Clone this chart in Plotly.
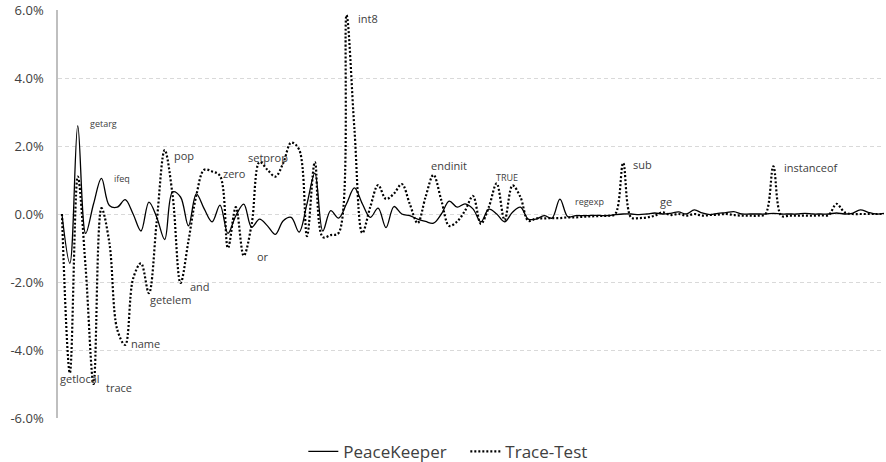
import plotly.graph_objects as go

# ---- data (percent) ----
peacekeeper = [
    0.0, -1.45, 2.6, -0.57, 0.3, 1.05, 0.25, 0.2, 0.42, 0.0,
    -0.5, 0.35, -0.1, -0.75, 0.65, 0.5, -0.35, 0.59, 0.15, -0.23,
    0.26, -0.57, -0.05, 0.29, -0.39, -0.15, -0.35, -0.6, -0.2, -0.1,
    -0.53, 0.3, 1.2, -0.5, 0.1, -0.12, 0.3, 0.77, 0.3, -0.1,
    0.17, -0.4, 0.22, 0.0, -0.05, -0.15, -0.22, -0.27, 0.0, 0.38,
    0.2, 0.3, 0.15, -0.23, 0.14, 0.0, -0.23, 0.05, 0.2, -0.15,
    -0.15, -0.05, -0.12, 0.44, -0.08, -0.05, -0.05, -0.04, -0.04, -0.05,
    -0.02, 0.0, 0.0, -0.02, 0.0, 0.03, 0.0, 0.02, 0.06, 0.0,
    0.12, 0.03, -0.02, 0.02, 0.04, 0.07, 0.0, 0.0, 0.0, 0.0,
    0.02, 0.0, 0.0, 0.0, 0.02, 0.0, 0.0, 0.0, 0.03, 0.0,
    0.02, 0.12, 0.05, 0.0, 0.02,
]

trace_test = [
    0.0, -4.68, 1.1, -1.6, -5.0, 0.17, -0.85, -3.4, -3.85, -1.9,
    -1.45, -2.33, -0.2, 1.88, 0.55, -2.03, -0.8, 0.55, 1.3, 1.25,
    1.12, -1.0, 0.2, -1.23, -0.3, 1.53, 1.3, 1.1, 1.5, 2.1,
    1.9, -0.65, 1.53, -0.68, -0.62, -0.56, 5.85, 2.5, -0.56, 0.2,
    0.85, 0.44, 0.6, 0.88, 0.3, -0.27, 0.5, 1.15, 0.4, -0.35,
    -0.22, 0.1, 0.53, -0.29, 0.2, 0.9, -0.18, 0.84, 0.5, -0.2,
    -0.13, -0.13, -0.12, -0.12, -0.1, -0.1, -0.08, -0.07, -0.06, -0.05,
    0.0, 1.5, -0.1, -0.12, -0.1, -0.05, 0.05, -0.03, 0.0, -0.05,
    0.0, -0.05, -0.03, -0.02, 0.0, -0.03, -0.05, -0.05, -0.05, 0.0,
    1.4, -0.05, -0.05, -0.05, -0.05, -0.05, -0.04, -0.03, 0.3, 0.05,
    0.0, 0.0, 0.0, 0.0, 0.0,
]

series_names = ["PeaceKeeper", "Trace-Test"]

y_tickvals = [-6, -4, -2, 0, 2, 4, 6]
y_ticktext = ["-6.0%", "-4.0%", "-2.0%", "0.0%", "2.0%", "4.0%", "6.0%"]

label_text = ["getarg", "ifeq", "pop", "zero", "setprop", "int8", "endinit",
              "TRUE", "regexp", "sub", "ge", "instanceof", "getlocal",
              "trace", "name", "getelem", "and", "or"]
label_series = [0, 0, 1, 1, 1, 1, 1, 1, 0, 1, 1, 1, 1, 1, 1, 1, 1, 1]
label_index = [2, 5, 13, 20, 25, 36, 47, 55, 63, 71, 76, 90, 1, 4, 8, 11, 15, 23]

# ---- styles ----
label_style = {
    "getarg": (10, 2, 9), "ifeq": (11, 0, 9), "pop": (7, -5, 11),
    "zero": (1, 2, 11), "setprop": (-14, 4, 11), "int8": (9, -3, 11),
    "endinit": (-4, 9, 11), "TRUE": (-3, 6, 9), "regexp": (13, -2, 9),
    "sub": (8, -1, 11), "ge": (-5, 11, 11), "instanceof": (9, -1, 11),
    "getlocal": (-12, -5, 11), "trace": (10, -3, 11), "name": (4, 1, 11),
    "getelem": (-1, -6, 11), "and": (7, -3, 11), "or": (11, -1, 11),
}
text_color = "#404040"
font_family = "Open Sans"

x = list(range(len(peacekeeper)))
data = [peacekeeper, trace_test]

fig = go.Figure()
fig.add_trace(go.Scatter(
    x=x, y=peacekeeper, name=series_names[0], mode="lines",
    line=dict(color="#000000", width=1.3, shape="spline", smoothing=1.0),
))
fig.add_trace(go.Scatter(
    x=x, y=trace_test, name=series_names[1], mode="lines",
    line=dict(color="#000000", width=2.2, shape="spline", smoothing=1.0,
              dash="2px,2px"),
))

annotations = []
for txt, s, i in zip(label_text, label_series, label_index):
    dx, dy, fs = label_style[txt]
    annotations.append(dict(
        x=x[i], y=data[s][i], xref="x", yref="y", text=txt, showarrow=False,
        xanchor="left", yanchor="middle", xshift=dx, yshift=dy,
        font=dict(family=font_family, size=fs, color=text_color),
    ))

fig.update_layout(
    width=886, height=462,
    margin=dict(l=58, r=2, t=10, b=44, autoexpand=False),
    paper_bgcolor="white", plot_bgcolor="white",
    showlegend=True,
    legend=dict(orientation="h", x=0.297, xanchor="left", y=-0.083,
                yanchor="middle", entrywidth=117, entrywidthmode="pixels",
                font=dict(family=font_family, size=17, color=text_color),
                bgcolor="rgba(0,0,0,0)"),
    annotations=annotations,
    hovermode=False,
)
fig.update_xaxes(range=[-0.5, 104], showgrid=False, zeroline=False,
                 showticklabels=False, showline=False, ticks="")
fig.update_yaxes(range=[-6, 6], tickvals=y_tickvals, ticktext=y_ticktext,
                 showgrid=True, gridcolor="#d9d9d9", gridwidth=1,
                 griddash="4px,3px", zeroline=False, showline=True,
                 linecolor="#bfbfbf", linewidth=1.5, ticks="",
                 ticklabelstandoff=10, ticklabeloverflow="allow",
                 tickfont=dict(family=font_family, size=13, color=text_color))

fig.write_html("out.html",
               config={"displayModeBar": False},
               post_script="document.body.style.margin='0';"
                           "document.body.style.overflow='hidden';")
